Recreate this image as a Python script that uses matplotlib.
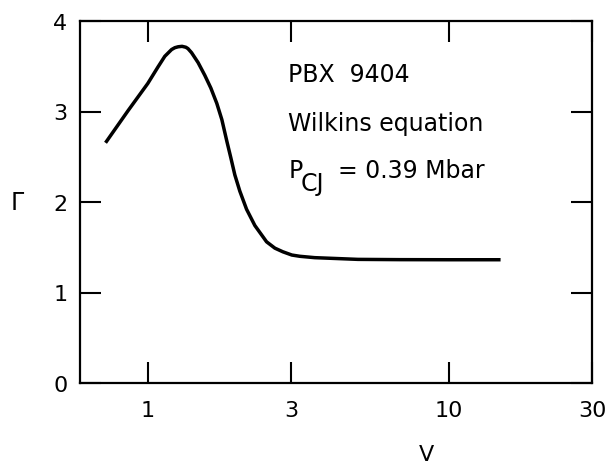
import matplotlib
matplotlib.use("Agg")
import matplotlib.pyplot as plt

# Gamma vs V for PBX 9404, Wilkins equation
v = [0.729, 0.86, 1.0, 1.08, 1.139, 1.20, 1.23, 1.261, 1.30, 1.338, 1.36,
     1.398, 1.47, 1.547, 1.62, 1.696, 1.763, 1.832, 1.888, 1.947, 2.023,
     2.13, 2.27, 2.483, 2.646, 2.812, 3.013, 3.205, 3.59, 5.0, 6.89, 10.0,
     14.7]
gamma = [2.67, 3.01, 3.31, 3.49, 3.61, 3.685, 3.705, 3.715, 3.72, 3.71,
         3.695, 3.65, 3.54, 3.40, 3.26, 3.09, 2.91, 2.67, 2.49, 2.30, 2.12,
         1.92, 1.74, 1.56, 1.49, 1.45, 1.414, 1.40, 1.385, 1.366, 1.363,
         1.362, 1.362]

xticks = [1, 3, 10, 30]
xticklabels = ['1', '3', '10', '30']
yticks = [0, 1, 2, 3, 4]

plt.rcParams['font.family'] = ['DejaVu Sans']

fig = plt.figure(figsize=(6.1, 4.64), dpi=100)
ax = fig.add_axes([80/610, 1 - 384/464, 512/610, 362/464])

ax.plot(v, gamma, color='black', lw=2.5, solid_joinstyle='round')

ax.set_xscale('log')
ax.set_xlim(0.595, 30)
ax.set_ylim(0, 4)
ax.set_xticks(xticks)
ax.set_xticklabels(xticklabels)
ax.xaxis.set_minor_locator(matplotlib.ticker.NullLocator())
ax.set_yticks(yticks)

ax.tick_params(direction='in', length=15, width=1.5, top=True, right=True,
               labelsize=16, colors='black')
ax.tick_params(axis='x', pad=12)
ax.tick_params(axis='y', pad=9)
for s in ax.spines.values():
    s.set_linewidth(1.6)

ax.set_xlabel('V', fontsize=16, va='top')
ax.xaxis.set_label_coords(0.676, -0.168)
ax.set_ylabel('Γ', fontsize=17, rotation=0, va='center', ha='center')
ax.yaxis.set_label_coords(-0.123, 0.5)

# annotation block
ax.text(0.407, 0.833, 'PBX  9404', transform=ax.transAxes, fontsize=17,
        va='baseline', ha='left')
ax.text(0.407, 0.699, 'Wilkins equation', transform=ax.transAxes,
        fontsize=17, va='baseline', ha='left')
ax.text(0.407, 0.568, 'P', transform=ax.transAxes, fontsize=17,
        va='baseline', ha='left')
ax.text(0.431, 0.534, 'CJ', transform=ax.transAxes, fontsize=17,
        va='baseline', ha='left')
ax.text(0.503, 0.568, '= 0.39 Mbar', transform=ax.transAxes, fontsize=17,
        va='baseline', ha='left')

fig.savefig('out.png', dpi=100)
